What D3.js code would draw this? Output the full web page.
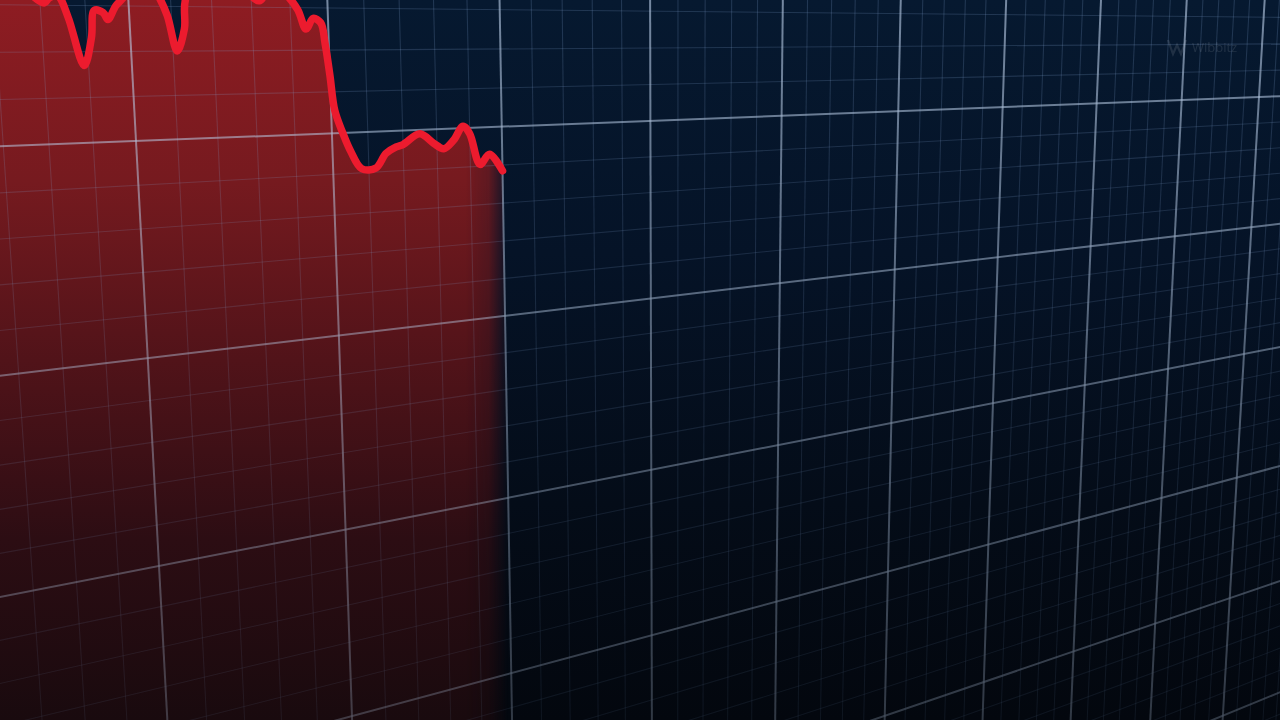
<!DOCTYPE html>
<html>
<head>
<meta charset="utf-8">
<script src="https://cdn.jsdelivr.net/npm/d3@7"></script>
<style>
  html, body { margin: 0; padding: 0; background: #050d1a; overflow: hidden; }
  svg { display: block; }
</style>
</head>
<body>
<svg id="chart" width="1280" height="720"></svg>
<script>
// ---------------- DATA ----------------
// time index (10 per minor grid cell, 50 per major cell)
const days = [-40, -25, -10, 0, 4, 6, 7, 9, 11, 14, 16, 17, 19, 20, 22, 24, 28, 32, 34, 36, 38, 39, 48,
              57, 60, 64, 67, 69, 71, 73, 74, 75, 76, 78, 80, 83, 87, 90, 93, 95, 100, 104,
              107, 110, 113, 115, 118, 121, 125];
// value (100 per major grid cell)
const values = [182, 178, 180, 175, 163, 161, 163, 164, 155, 134, 146, 158, 157, 154, 160, 164, 176, 165, 156,
                140, 150, 165, 178, 163, 170, 166, 159, 150, 155, 153, 143, 128, 111, 100, 91,
                82, 82, 89, 92, 93, 98, 93, 90, 94, 101, 97, 81, 86, 77];
const watermark = "Wibbitz";

// ---------------- LAYOUT ----------------
const W = 1280, H = 720;
const svg = d3.select("#chart");

// plane coordinates (U, V) in major grid cells -> screen via homography
const planeRef  = [[0, 0], [9, 0], [0, 2], [9, 2]];
const screenRef = [[136, 141], [1259, 97], [159, 566], [1244, 354]];

function solve(A, b) {
  const n = b.length;
  const M = A.map((r, i) => r.concat([b[i]]));
  for (let c = 0; c < n; c++) {
    let p = c;
    for (let r = c + 1; r < n; r++) if (Math.abs(M[r][c]) > Math.abs(M[p][c])) p = r;
    [M[c], M[p]] = [M[p], M[c]];
    for (let r = 0; r < n; r++) {
      if (r === c) continue;
      const f = M[r][c] / M[c][c];
      for (let k = c; k <= n; k++) M[r][k] -= f * M[c][k];
    }
  }
  return M.map((r, i) => r[n] / r[i]);
}
const A = [], B = [];
planeRef.forEach(([u, v], i) => {
  const [x, y] = screenRef[i];
  A.push([u, v, 1, 0, 0, 0, -u * x, -v * x]); B.push(x);
  A.push([0, 0, 0, u, v, 1, -u * y, -v * y]); B.push(y);
});
const h = solve(A, B);
function proj(u, v) {
  const w = h[6] * u + h[7] * v + 1;
  return [(h[0] * u + h[1] * v + h[2]) / w, (h[3] * u + h[4] * v + h[5]) / w];
}

// chart scales: data -> plane
const xScale = d3.scaleLinear().domain([0, 50]).range([-0.5, 0.5]);
const yScale = d3.scaleLinear().domain([0, 100]).range([1, 0]);
const baseValue = -420;

const data = days.map((d, i) => ({ day: d, value: values[i] }));

// ---------------- DEFS ----------------
const defs = svg.append("defs");
const bg = defs.append("linearGradient").attr("id", "bg")
  .attr("gradientUnits", "userSpaceOnUse").attr("x1", 0).attr("y1", 0).attr("x2", 0).attr("y2", H);
[[0, "#061930"], [0.35, "#051327"], [0.7, "#040c18"], [1, "#03070e"]]
  .forEach(([o, c]) => bg.append("stop").attr("offset", o).attr("stop-color", c));

const fillG = defs.append("linearGradient").attr("id", "fillG")
  .attr("gradientUnits", "userSpaceOnUse").attr("x1", 0).attr("y1", 0).attr("x2", 0).attr("y2", H);
[[0, "#8e1c22"], [0.25, "#761a1f"], [0.5, "#511319"], [0.75, "#2c0d13"], [1, "#190a0e"]]
  .forEach(([o, c]) => fillG.append("stop").attr("offset", o).attr("stop-color", c));

const edgeG = defs.append("linearGradient").attr("id", "edgeG")
  .attr("gradientUnits", "userSpaceOnUse").attr("x1", 465).attr("y1", 0).attr("x2", 508).attr("y2", 0);
[[0, "#fff", 1], [0.55, "#fff", 0.8], [1, "#fff", 0]]
  .forEach(([o, c, a]) => edgeG.append("stop").attr("offset", o).attr("stop-color", c).attr("stop-opacity", a));
defs.append("mask").attr("id", "edgeMask").attr("maskUnits", "userSpaceOnUse")
  .attr("x", 0).attr("y", 0).attr("width", W).attr("height", H)
  .append("rect").attr("width", W).attr("height", H).attr("fill", "url(#edgeG)");

const gridFade = defs.append("linearGradient").attr("id", "gridFade")
  .attr("gradientUnits", "userSpaceOnUse").attr("x1", 0).attr("y1", 0).attr("x2", 0).attr("y2", H);
[[0, 1], [0.45, 0.72], [1, 0.4]]
  .forEach(([o, a]) => gridFade.append("stop").attr("offset", o).attr("stop-color", "#fff").attr("stop-opacity", a));
defs.append("mask").attr("id", "gridMask").attr("maskUnits", "userSpaceOnUse")
  .attr("x", 0).attr("y", 0).attr("width", W).attr("height", H)
  .append("rect").attr("width", W).attr("height", H).attr("fill", "url(#gridFade)");

// ---------------- BACKGROUND ----------------
svg.append("rect").attr("width", W).attr("height", H).attr("fill", "url(#bg)");

// ---------------- AREA ----------------
const area = d3.area()
  .x0(d => proj(xScale(d.day), yScale(baseValue))[0])
  .y0(d => proj(xScale(d.day), yScale(baseValue))[1])
  .x1(d => proj(xScale(d.day), yScale(d.value))[0])
  .y1(d => proj(xScale(d.day), yScale(d.value))[1])
  .curve(d3.curveCatmullRom.alpha(0.5));
svg.append("path").datum(data).attr("d", area)
  .attr("fill", "url(#fillG)").attr("mask", "url(#edgeMask)");

// ---------------- GRID ----------------
const grid = svg.append("g").attr("mask", "url(#gridMask)");
const uMin = -3, uMax = 13, vMin = -1.6, vMax = 7;
const uTicks = d3.range(-15, 66);   // in minor steps (0.2 major)
const vTicks = d3.range(-8, 36);
const seg = d3.line();
function gridLine(p0, p1, major) {
  grid.append("path").attr("d", seg([proj(...p0), proj(...p1)]))
    .attr("fill", "none")
    .attr("stroke", major ? "rgb(185,205,230)" : "rgb(130,165,210)")
    .attr("stroke-opacity", major ? 0.62 : 0.22)
    .attr("stroke-width", major ? 2 : 1.1);
}
uTicks.filter(i => i % 5 !== 0).forEach(i => gridLine([i / 5, vMin], [i / 5, vMax], false));
vTicks.filter(j => j % 5 !== 0).forEach(j => gridLine([uMin, j / 5], [uMax, j / 5], false));
uTicks.filter(i => i % 5 === 0).forEach(i => gridLine([i / 5, vMin], [i / 5, vMax], true));
vTicks.filter(j => j % 5 === 0).forEach(j => gridLine([uMin, j / 5], [uMax, j / 5], true));

// ---------------- LINE ----------------
const line = d3.line()
  .x(d => proj(xScale(d.day), yScale(d.value))[0])
  .y(d => proj(xScale(d.day), yScale(d.value))[1])
  .curve(d3.curveCatmullRom.alpha(0.5));
svg.append("path").datum(data).attr("d", line)
  .attr("fill", "none").attr("stroke", "#ec1b2e")
  .attr("stroke-width", 7.5).attr("stroke-linejoin", "round").attr("stroke-linecap", "round");

// ---------------- WATERMARK ----------------
const wm = svg.append("g").attr("opacity", 0.1);
wm.append("path").attr("d", "M1168,40 L1173,54 L1177,45 L1181,54 L1186,40")
  .attr("fill", "none").attr("stroke", "#ffffff").attr("stroke-width", 2.2);
wm.append("text").attr("x", 1192).attr("y", 52).text(watermark)
  .attr("fill", "#ffffff").attr("font-family", "Open Sans, sans-serif").attr("font-size", 13);
</script>
</body>
</html>
